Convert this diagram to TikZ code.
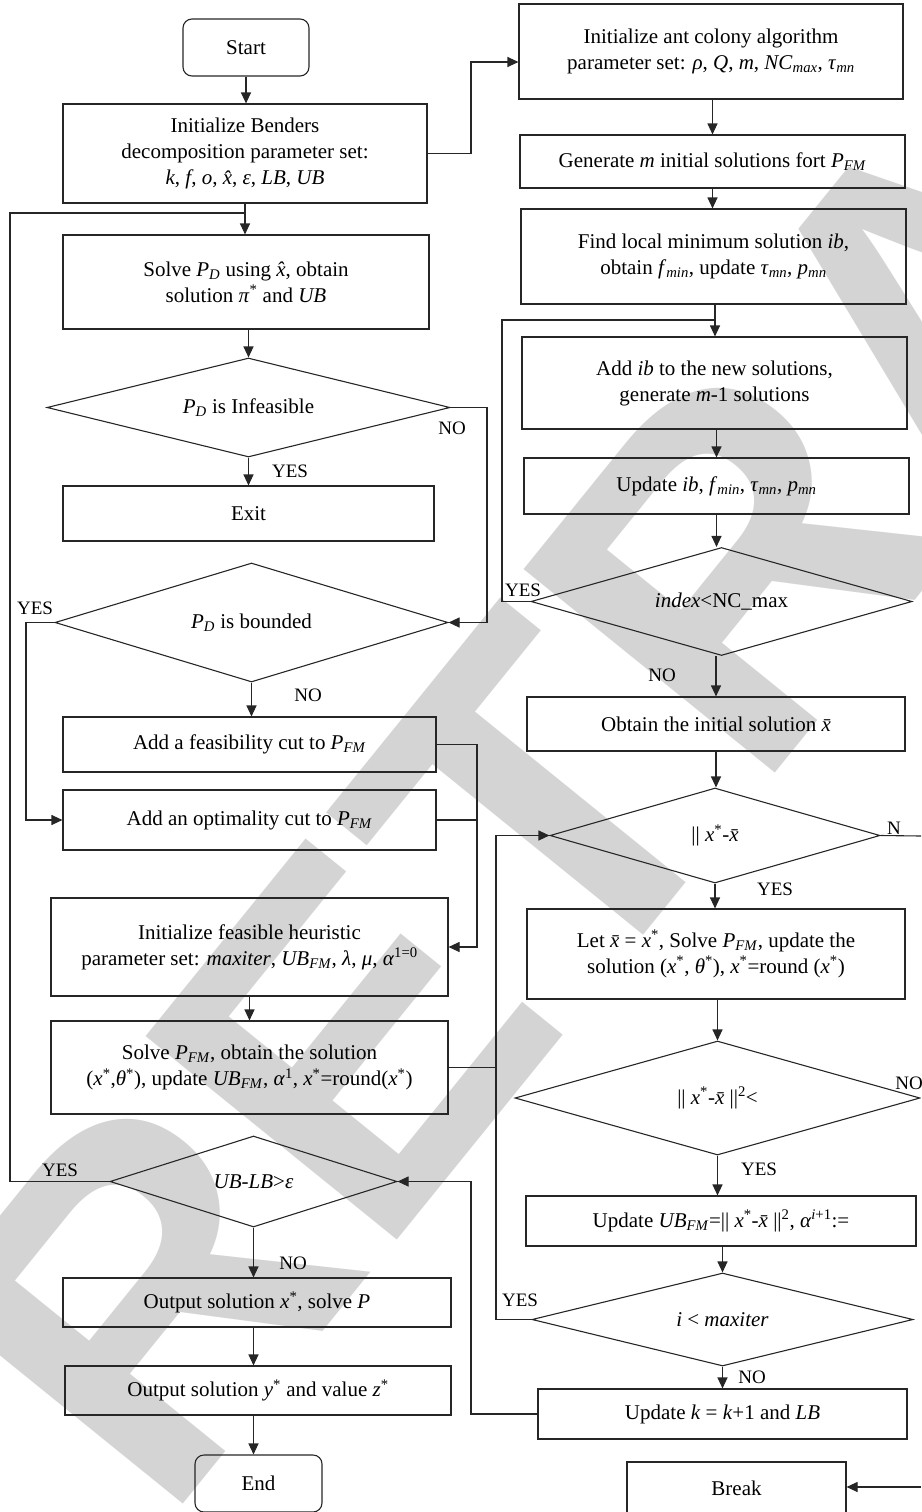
\documentclass[tikz,border=0pt]{standalone}
\usepackage{fontspec}
\setmainfont{Liberation Serif}
\newfontfamily\wmfont{Liberation Sans}
\usetikzlibrary{shapes.geometric,arrows.meta}
\newcommand{\vi}[1]{\textit{#1}}
\newcommand{\sbt}[1]{\textsubscript{\textit{#1}}}
\newcommand{\spt}[1]{\textsuperscript{#1}}
\newcommand{\xs}{\vi{x}\spt{*}}
\newcommand{\xb}{{\itshape x̄}}
\newcommand{\xh}{{\itshape x̂}}
\begin{document}
\begin{tikzpicture}[x=1pt,y=-1pt,
  font=\fontsize{21}{26}\selectfont,
  base/.style={draw=black!85, line width=1.1pt, align=center, inner sep=2pt},
  bx/.style 2 args={base, rectangle, minimum width=#1pt, minimum height=#2pt},
  rbx/.style 2 args={bx={#1}{#2}, rounded corners=9pt},
  dm/.style 2 args={base, diamond, aspect=3.5, inner sep=0pt, minimum width=#1pt, minimum height=#2pt},
  ln/.style={draw=black!85, line width=1.1pt},
  arr/.style={ln, -{Triangle[length=11pt,width=10pt]}},
  lbl/.style={inner sep=0pt, font=\fontsize{19}{22}\selectfont}]
\path[use as bounding box] (0,0) rectangle (921,1512);
\clip (0,0) rectangle (921,1512);

% ---------- watermark ----------
\node[rotate=51, inner sep=0pt, text=black!17, font=\wmfont\bfseries\fontsize{470}{470}\selectfont] (wm) at (950,300) {RETRACTED};

% ---------- left column ----------
\node[rbx={126}{57}] (start) at (246,47.5) {Start};
\node[bx={364}{99}] (benders) at (245,153.5) {Initialize Benders\\decomposition parameter set:\\\vi{k}, \vi{f}, \vi{o}, \xh, \vi{ε}, \vi{LB}, \vi{UB}};
\node[bx={366}{94}] (solvepd) at (246,282) {Solve \vi{P}\sbt{D} using \xh, obtain\\solution \vi{π}\spt{*} and \vi{UB}};
\node[dm={403}{99}] (d1) at (248.5,407.5) {\vi{P}\sbt{D} is Infeasible};
\node[bx={371}{55}] (exit) at (248.5,513.5) {Exit};
\node[dm={393}{119}] (d2) at (251.5,622.5) {\vi{P}\sbt{D} is bounded};
\node[bx={373}{55}] (feas) at (249.5,744.5) {Add a feasibility cut to \vi{P}\sbt{FM}};
\node[bx={373}{60}] (opt) at (249.5,820) {Add an optimality cut to \vi{P}\sbt{FM}};
\node[bx={397}{98}] (initfh) at (249.5,947) {Initialize feasible heuristic\\parameter set: \vi{maxiter}, \vi{UB}\sbt{FM}, \vi{λ}, \vi{μ}, \vi{α}\spt{1=0}};
\node[bx={397}{93}] (solvefm) at (249.5,1067.5) {Solve \vi{P}\sbt{FM}, obtain the solution\\(\xs,\vi{θ}\spt{*}), update \vi{UB}\sbt{FM}, \vi{α}\spt{1}, \xs=round(\xs)};
\node[dm={287}{91}] (d3) at (253.5,1181.5) {\vi{UB-LB}>\vi{ε}};
\node[bx={388}{49}] (outx) at (257,1302.5) {Output solution \xs, solve \vi{P}};
\node[bx={386}{49}] (outy) at (258,1390.5) {Output solution \vi{y}\spt{*} and value \vi{z}\spt{*}};
\node[rbx={127}{57}] (end) at (258.5,1483.5) {End};

% ---------- right column ----------
\node[bx={384}{95}] (aco) at (711,51.5) {Initialize ant colony algorithm\\parameter set: \vi{ρ}, \vi{Q}, \vi{m}, \vi{NC}\sbt{max}, \vi{τ}\sbt{mn}};
\node[bx={385}{53}] (gen) at (712.5,161.5) {Generate \vi{m} initial solutions fort \vi{P}\sbt{FM}};
\node[bx={385}{95}] (findmin) at (713.5,256.5) {Find local minimum solution \vi{ib},\\obtain \vi{f}\sbt{min}, update \vi{τ}\sbt{mn}, \vi{p}\sbt{mn}};
\node[bx={385}{92}] (addib) at (714.5,383) {Add \vi{ib} to the new solutions,\\generate \vi{m}-1 solutions};
\node[bx={385}{56}] (updib) at (716.5,486) {Update \vi{ib}, \vi{f}\sbt{min}, \vi{τ}\sbt{mn}, \vi{p}\sbt{mn}};
\node[dm={381}{108}] (d4) at (721.5,601.5) {\vi{index}<NC\_max};
\node[bx={378}{54}] (obtain) at (716,724) {Obtain the initial solution \xb};
\node[dm={330}{95}] (d5) at (715,835.5) {|| \xs-\xb};
\node[bx={378}{90}] (letx) at (716,954) {Let \xb{} = \xs, Solve \vi{P}\sbt{FM}, update the\\solution (\xs, \vi{θ}\spt{*}), \xs=round (\xs)};
\node[dm={405}{114}] (d6) at (717.5,1098) {|| \xs-\xb{} ||\spt{2}<};
\node[bx={390}{50}] (updub) at (721,1221) {Update \vi{UB}\sbt{FM}=|| \xs-\xb{} ||\spt{2}, \vi{α}\spt{\vi{i}+1}:=};
\node[dm={381}{93}] (d7) at (722.5,1319.5) {\vi{i} < \vi{maxiter}};
\node[bx={369}{50}] (updk) at (722.5,1414) {Update \vi{k} = \vi{k}+1 and \vi{LB}};
\node[bx={219}{52}] (brk) at (736.5,1488) {Break};

% ---------- helper coordinates ----------
\coordinate (j1) at (246,213);
\coordinate (j2) at (715,320);
\coordinate (vA) at (10,0);
\coordinate (vB) at (26,0);
\coordinate (vC) at (487,0);
\coordinate (vD) at (477,0);
\coordinate (vE) at (496,0);
\coordinate (vF) at (471,0);
\coordinate (vG) at (502,0);
\coordinate (eN) at (921,836);
\coordinate (eB) at (921,1487);

% ---------- vertical flow, left ----------
\draw[arr] (start.south) -- (start.south |- benders.north);
\draw[arr] (benders.south) -- (benders.south |- solvepd.north);
\draw[arr] (solvepd.south -| d1.north) -- (d1.north);
\draw[arr] (d1.south) -- (d1.south |- exit.north);
\draw[arr] (d2.south) -- (d2.south |- feas.north);
\draw[arr] (initfh.south) -- (initfh.south |- solvefm.north);
\draw[arr] (d3.south) -- (d3.south |- outx.north);
\draw[arr] (outx.south -| d3.south) -- (d3.south |- outy.north);
\draw[arr] (outy.south -| d3.south) -- (d3.south |- end.north);

% ---------- vertical flow, right ----------
\draw[arr] (aco.south -| gen.north) -- (gen.north);
\draw[arr] (gen.south) -- (gen.south |- findmin.north);
\draw[ln] (findmin.south -| j2) -- (j2);
\draw[arr] (j2) -- (j2 |- addib.north);
\draw[arr] (addib.south -| updib.north) -- (updib.north);
\draw[arr] (updib.south) -- (updib.south |- d4.north);
\draw[arr] (d4.south -| obtain.north) -- (obtain.north);
\draw[arr] (obtain.south) -- (obtain.south |- d5.north);
\draw[arr] (d5.south) -- (d5.south |- letx.north);
\draw[arr] (letx.south -| d6.north) -- (d6.north);
\draw[arr] (d6.south) -- (d6.south |- updub.north);
\draw[arr] (updub.south -| d7.north) -- (d7.north);
\draw[arr] (d7.south) -- (d7.south |- updk.north);

% ---------- branches and loops ----------
\draw[arr] (benders.east) -| (vF |- 0,62) -- (aco.west |- 0,62);
\draw[ln] (d3.west) -- (d3.west -| vA) |- (j1);
\draw[arr] (d1.east) -- (d1.east -| vC) |- (d2.east);
\draw[arr] (d2.west) -- (d2.west -| vB) |- (opt.west);
\draw[arr] (feas.east) -| (vD |- initfh.east) -- (initfh.east);
\draw[ln] (opt.east) -- (opt.east -| vD);
\draw[ln] (solvefm.east) -- (solvefm.east -| vE);
\draw[arr] (d7.west) -- (d7.west -| vE) |- (d5.west);
\draw[ln] (d4.west) -- (d4.west -| vG) |- (j2);
\draw[arr] (updk.west) -| (vF |- d3.east) -- (d3.east);
\draw[ln] (d5.east) -- (eN);
\draw[arr] (eB) -- (brk.east |- eB);

% ---------- branch labels ----------
\node[lbl] (l1) at (290,471) {YES};
\node[lbl] (l2) at (452,428) {NO};
\node[lbl] (l3) at (35,608) {YES};
\node[lbl] (l4) at (308,695) {NO};
\node[lbl] (l5) at (60,1170) {YES};
\node[lbl] (l6) at (293,1263) {NO};
\node[lbl] (l7) at (523,590) {YES};
\node[lbl] (l8) at (662,675) {NO};
\node[lbl] (l9) at (894,828) {N};
\node[lbl] (l10) at (775,889) {YES};
\node[lbl] (l11) at (909,1083) {NO};
\node[lbl] (l12) at (759,1169) {YES};
\node[lbl] (l13) at (520,1300) {YES};
\node[lbl] (l14) at (752,1377) {NO};
\end{tikzpicture}
\end{document}
